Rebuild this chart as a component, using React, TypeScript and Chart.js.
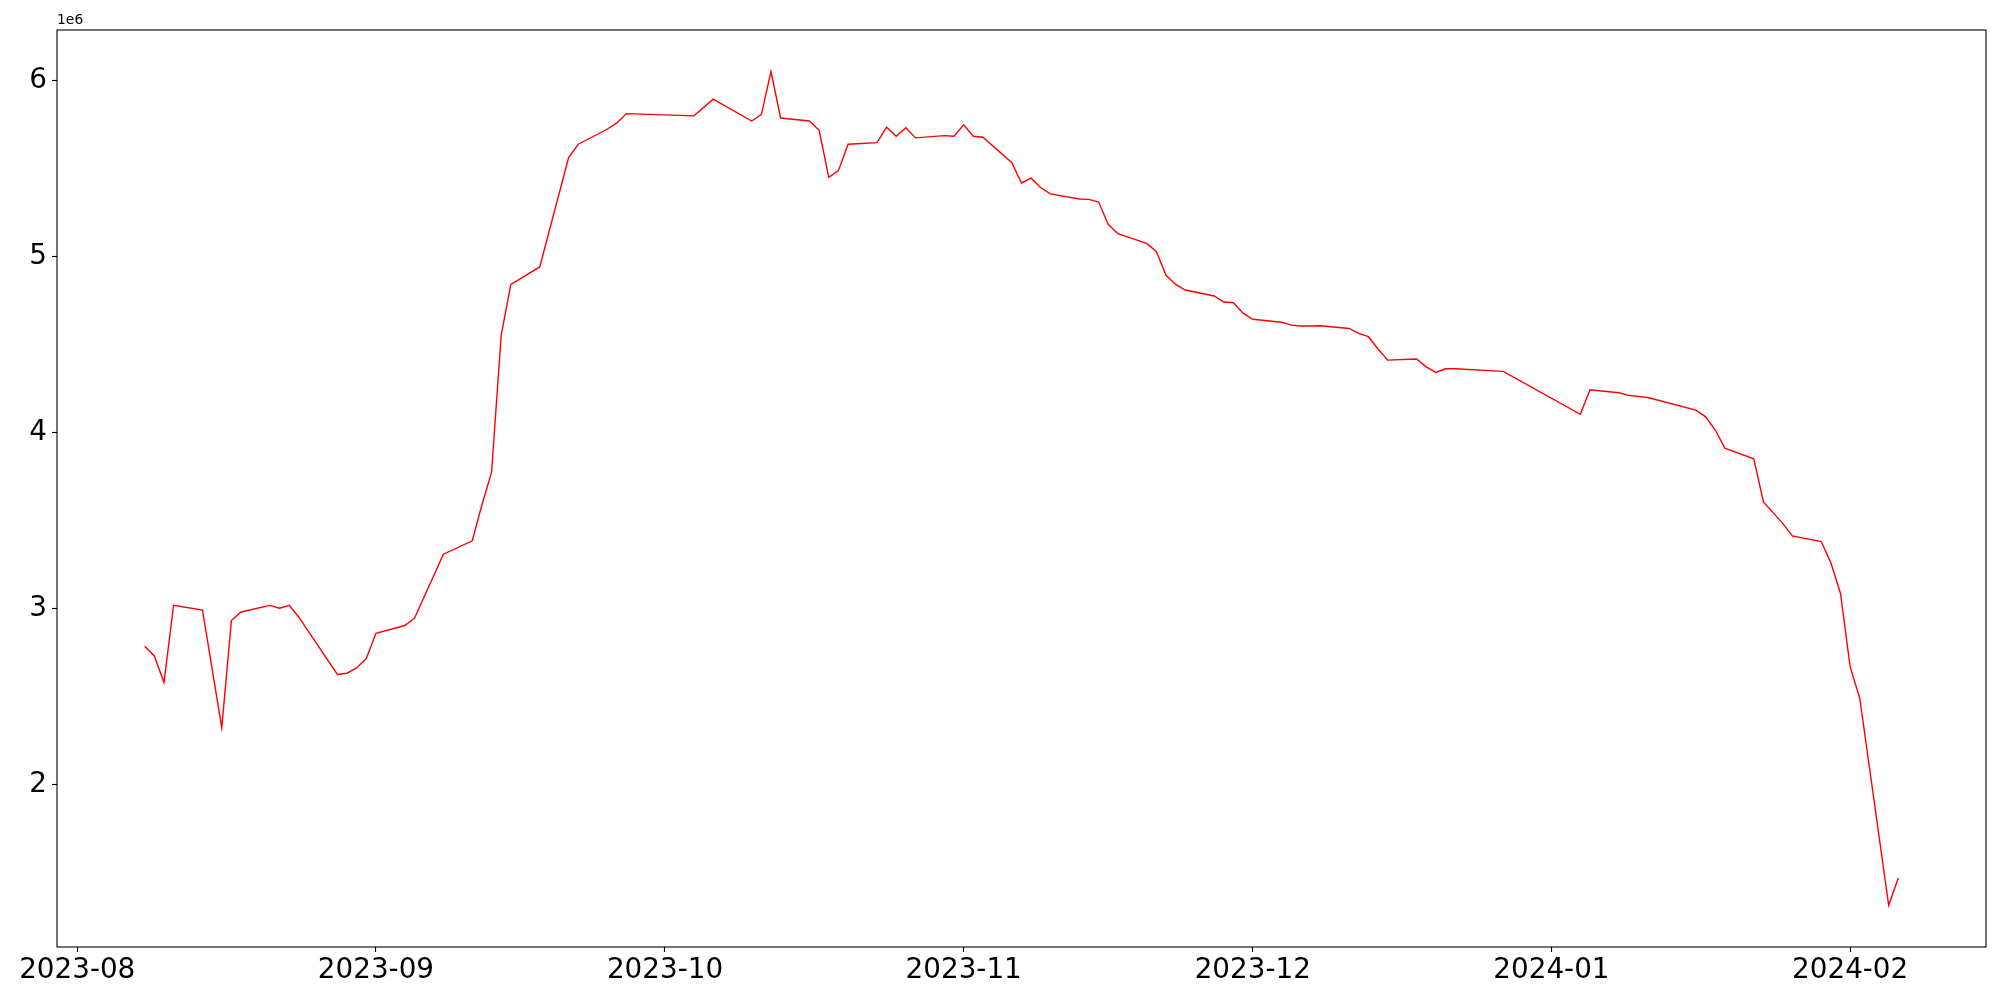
import React, { useEffect, useRef } from "react";
import { Chart, registerables } from "chart.js";

Chart.register(...registerables);

const dates: string[] = [
  "2023-08-08", "2023-08-09", "2023-08-10", "2023-08-11", "2023-08-14", "2023-08-16", "2023-08-17", "2023-08-18",
  "2023-08-21", "2023-08-22", "2023-08-23", "2023-08-24", "2023-08-28", "2023-08-29", "2023-08-30", "2023-08-31",
  "2023-09-01", "2023-09-04", "2023-09-05", "2023-09-08", "2023-09-11", "2023-09-12", "2023-09-13", "2023-09-14",
  "2023-09-15", "2023-09-18", "2023-09-21", "2023-09-22", "2023-09-25", "2023-09-26", "2023-09-27", "2023-10-04",
  "2023-10-06", "2023-10-10", "2023-10-11", "2023-10-12", "2023-10-13", "2023-10-16", "2023-10-17", "2023-10-18",
  "2023-10-19", "2023-10-20", "2023-10-23", "2023-10-24", "2023-10-25", "2023-10-26", "2023-10-27", "2023-10-30",
  "2023-10-31", "2023-11-01", "2023-11-02", "2023-11-03", "2023-11-06", "2023-11-07", "2023-11-08", "2023-11-09",
  "2023-11-10", "2023-11-13", "2023-11-14", "2023-11-15", "2023-11-16", "2023-11-17", "2023-11-20", "2023-11-21",
  "2023-11-22", "2023-11-23", "2023-11-24", "2023-11-27", "2023-11-28", "2023-11-29", "2023-11-30", "2023-12-01",
  "2023-12-04", "2023-12-05", "2023-12-06", "2023-12-07", "2023-12-08", "2023-12-11", "2023-12-12", "2023-12-13",
  "2023-12-14", "2023-12-15", "2023-12-18", "2023-12-19", "2023-12-20", "2023-12-21", "2023-12-22", "2023-12-27",
  "2024-01-04", "2024-01-05", "2024-01-08", "2024-01-09", "2024-01-11", "2024-01-16", "2024-01-17", "2024-01-18",
  "2024-01-19", "2024-01-22", "2024-01-23", "2024-01-24", "2024-01-25", "2024-01-26", "2024-01-29", "2024-01-30",
  "2024-01-31", "2024-02-01", "2024-02-02", "2024-02-05", "2024-02-06",
];

const values: number[] = [
  2786000, 2731000, 2580000, 3019000, 2991000, 2324000, 2932000, 2981000,
  3018000, 3002000, 3019000, 2951000, 2626000, 2633000, 2663000, 2716000,
  2860000, 2904000, 2945000, 3309000, 3385000, 3590000, 3773000, 4553000,
  4841000, 4940000, 5561000, 5637000, 5722000, 5758000, 5811000, 5798000,
  5893000, 5769000, 5805000, 6049000, 5786000, 5769000, 5716000, 5449000,
  5487000, 5637000, 5646000, 5734000, 5682000, 5731000, 5673000, 5686000,
  5682000, 5747000, 5682000, 5677000, 5532000, 5417000, 5444000, 5390000,
  5355000, 5326000, 5324000, 5309000, 5182000, 5129000, 5074000, 5027000,
  4893000, 4841000, 4809000, 4775000, 4741000, 4737000, 4678000, 4643000,
  4626000, 4610000, 4605000, 4605000, 4606000, 4591000, 4563000, 4544000,
  4474000, 4411000, 4417000, 4373000, 4341000, 4362000, 4362000, 4347000,
  4103000, 4243000, 4226000, 4211000, 4199000, 4127000, 4089000, 4014000,
  3911000, 3851000, 3606000, 3545000, 3484000, 3413000, 3381000, 3260000,
  3086000, 2669000, 2491000, 1315000, 1470000,
];

const monthTicks: string[] = ["2023-08", "2023-09", "2023-10", "2023-11", "2023-12", "2024-01", "2024-02"];
const yTicks: number[] = [2000000, 3000000, 4000000, 5000000, 6000000];
const offsetLabel = "1e6";

function toMs(s: string): number {
  const p = s.split("-").map(Number);
  return Date.UTC(p[0], p[1] - 1, p[2] || 1);
}

export default function App() {
  const ref = useRef<HTMLCanvasElement | null>(null);

  useEffect(() => {
    if (!ref.current) return;
    const xs = dates.map(toMs);
    const xMin = Math.min(...xs);
    const xMax = Math.max(...xs);
    const xPad = (xMax - xMin) * 0.05;
    const yMin = Math.min(...values);
    const yMax = Math.max(...values);
    const yPad = (yMax - yMin) * 0.05;
    const font = { family: "'DejaVu Sans', sans-serif", size: 27.8 };

    const framePlugin = {
      id: "frame",
      beforeDraw(chart: any) {
        const ctx = chart.ctx;
        ctx.save();
        ctx.fillStyle = "#ffffff";
        ctx.fillRect(0, 0, chart.width, chart.height);
        ctx.restore();
      },
      afterDraw(chart: any) {
        const { left, top, right, bottom } = chart.chartArea;
        const ctx = chart.ctx;
        ctx.save();
        ctx.strokeStyle = "#000000";
        ctx.lineWidth = 1.1;
        ctx.strokeRect(left, top, right - left, bottom - top);
        ctx.fillStyle = "#000000";
        ctx.font = "13.9px 'DejaVu Sans', sans-serif";
        ctx.textAlign = "left";
        ctx.textBaseline = "bottom";
        ctx.fillText(offsetLabel, left, top - 3);
        ctx.restore();
      },
    };

    const chart = new Chart(ref.current, {
      type: "line",
      data: {
        datasets: [
          {
            data: xs.map((x, i) => ({ x, y: values[i] })),
            borderColor: "#ff0000",
            borderWidth: 1.4,
            pointRadius: 0,
            tension: 0,
            fill: false,
          },
        ],
      },
      options: {
        responsive: false,
        animation: false,
        devicePixelRatio: 1,
        layout: { padding: { left: 0, top: 30, right: 14, bottom: 0 } },
        plugins: { legend: { display: false }, tooltip: { enabled: false } },
        scales: {
          x: {
            type: "linear",
            min: xMin - xPad,
            max: xMax + xPad,
            afterBuildTicks: (s: any) => {
              s.ticks = monthTicks.map((m) => ({ value: toMs(m) }));
            },
            afterFit: (s: any) => {
              s.height = 53;
            },
            ticks: {
              callback: (v: any) => {
                const m = monthTicks.find((t) => toMs(t) === v);
                return m || "";
              },
              font,
              color: "#000000",
              maxRotation: 0,
              autoSkip: false,
              padding: 2,
            },
            grid: { display: true, drawOnChartArea: false, drawTicks: true, tickLength: 5, color: "#000000", tickWidth: 1.1 },
            border: { display: false },
          },
          y: {
            type: "linear",
            min: yMin - yPad,
            max: yMax + yPad,
            afterBuildTicks: (s: any) => {
              s.ticks = yTicks.map((v) => ({ value: v }));
            },
            afterFit: (s: any) => {
              s.width = 57;
            },
            ticks: {
              callback: (v: any) => String(Math.round(Number(v) / 1000000)),
              font,
              color: "#000000",
              padding: 5,
            },
            grid: { display: true, drawOnChartArea: false, drawTicks: true, tickLength: 5, color: "#000000", tickWidth: 1.1 },
            border: { display: false },
          },
        },
      },
      plugins: [framePlugin],
    } as any);

    return () => chart.destroy();
  }, []);

  return (
    <div style={{ position: "fixed", left: 0, top: 0, width: 2000, height: 1000, background: "#ffffff" }}>
      <canvas ref={ref} width={2000} height={1000} style={{ width: 2000, height: 1000, display: "block" }} />
    </div>
  );
}
